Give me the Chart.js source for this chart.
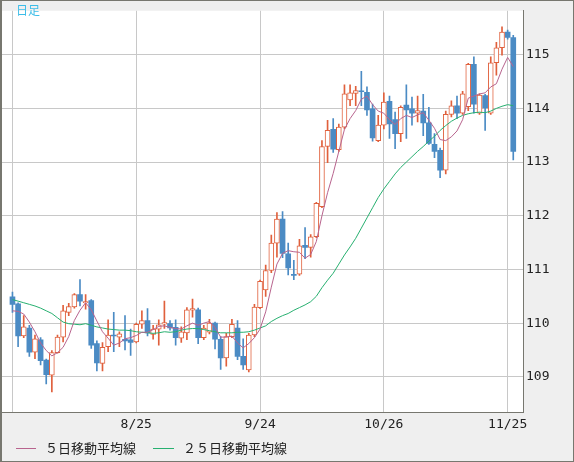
<!DOCTYPE html>
<html lang="ja">
<head>
<meta charset="utf-8">
<title>日足</title>
<script src="https://cdn.jsdelivr.net/npm/chart.js"></script>
<style>
  html, body { margin: 0; padding: 0; background: #efefef; }
  #wrap { position: relative; width: 574px; height: 462px; }
</style>
</head>
<body>
<div id="wrap"><canvas id="candleChart"></canvas></div>
<script>
// daily OHLC, one entry per trading day (index 0 .. 89)
const opens = [
  110.49, 110.36, 109.76, 109.91, 109.46, 109.69, 109.31, 109.03, 109.45, 109.74,
  110.20, 110.30, 110.53, 110.38, 110.42, 109.62, 109.25, 109.56, 109.78, 109.74,
  109.70, 109.69, 109.65, 109.98, 110.05, 109.79, 109.89, 109.98, 109.99, 109.92,
  109.72, 109.82, 110.24, 110.25, 109.73, 109.83, 110.00, 109.70, 109.35, 109.75,
  109.91, 109.38, 109.13, 109.78, 110.29, 110.62, 110.98, 111.49, 111.94, 111.29,
  110.91, 110.91, 111.45, 111.41, 111.61, 112.17, 113.29, 113.61, 113.23, 113.65,
  114.16, 114.28, 114.32, 114.30, 113.99, 113.40, 113.69, 114.13, 113.79, 113.53,
  114.06, 113.99, 113.91, 113.95, 113.73, 113.33, 113.22, 112.85, 113.89, 114.05,
  113.91, 114.03, 114.82, 113.91, 114.24, 113.91, 114.85, 115.13, 115.42, 115.32
];
const highs = [
  110.58, 110.38, 110.14, 109.96, 109.78, 109.73, 109.33, 109.49, 109.78, 110.33,
  110.37, 110.55, 110.81, 110.53, 110.44, 109.67, 109.64, 110.06, 110.20, 109.84,
  110.14, 109.89, 110.00, 110.23, 110.27, 109.96, 110.06, 110.41, 110.05, 110.06,
  109.93, 110.29, 110.45, 110.28, 109.96, 110.07, 110.02, 109.75, 109.81, 110.07,
  110.05, 109.71, 109.81, 110.35, 110.80, 111.08, 111.64, 112.06, 112.08, 111.49,
  111.17, 111.56, 111.78, 111.65, 112.25, 113.40, 113.78, 113.81, 113.71, 114.44,
  114.44, 114.41, 114.69, 114.40, 114.08, 113.87, 114.29, 114.23, 113.93, 114.05,
  114.44, 114.21, 114.23, 114.26, 114.02, 113.53, 113.26, 113.95, 114.14, 114.23,
  114.32, 114.84, 114.96, 114.27, 114.26, 114.96, 115.23, 115.52, 115.46, 115.36
];
const lows = [
  110.20, 109.56, 109.73, 109.38, 109.34, 109.22, 108.87, 108.72, 109.44, 109.65,
  110.14, 110.28, 110.32, 110.26, 109.53, 109.11, 109.11, 109.47, 109.47, 109.56,
  109.50, 109.40, 109.63, 109.90, 109.76, 109.70, 109.59, 109.90, 109.87, 109.59,
  109.64, 109.69, 110.11, 109.62, 109.69, 109.80, 109.52, 109.14, 109.20, 109.73,
  109.32, 109.14, 109.09, 109.75, 110.27, 110.50, 110.94, 111.23, 111.22, 110.90,
  110.81, 110.89, 111.20, 111.23, 111.59, 112.15, 112.99, 113.18, 113.20, 113.62,
  114.05, 114.05, 114.05, 113.87, 113.39, 113.38, 113.62, 113.44, 113.25, 113.38,
  113.44, 113.69, 113.75, 113.49, 113.33, 113.08, 112.71, 112.78, 113.84, 113.81,
  113.89, 113.96, 113.91, 113.89, 113.59, 113.89, 114.62, 114.99, 115.29, 113.04
];
const closes = [
  110.35, 109.76, 109.93, 109.46, 109.71, 109.30, 109.04, 109.45, 109.74, 110.23,
  110.31, 110.53, 110.41, 110.40, 109.59, 109.26, 109.55, 109.78, 109.76, 109.80,
  109.67, 109.64, 109.98, 110.05, 109.82, 109.89, 109.97, 110.01, 109.91, 109.73,
  109.84, 110.25, 110.27, 109.73, 109.91, 110.00, 109.70, 109.35, 109.75, 109.98,
  109.38, 109.22, 109.78, 110.30, 110.78, 110.98, 111.49, 111.94, 111.30, 111.03,
  110.89, 111.44, 111.41, 111.61, 112.23, 113.29, 113.59, 113.24, 113.65, 114.27,
  114.29, 114.33, 114.31, 113.97, 113.45, 113.69, 114.12, 113.71, 113.53, 114.02,
  113.97, 113.91, 113.96, 113.73, 113.35, 113.20, 112.85, 113.89, 114.05, 113.91,
  114.27, 114.82, 114.08, 114.25, 114.01, 114.85, 115.13, 115.42, 115.32, 113.20
];
// 5-day moving average
const ma5 = [
  110.23, 110.22, 110.17, 110.02, 109.84, 109.63, 109.49, 109.39, 109.45, 109.55,
  109.75, 110.05, 110.24, 110.38, 110.25, 110.04, 109.84, 109.72, 109.59, 109.63,
  109.71, 109.73, 109.77, 109.83, 109.83, 109.88, 109.94, 109.95, 109.92, 109.90,
  109.89, 109.95, 110.00, 109.96, 110.00, 110.03, 109.92, 109.74, 109.74, 109.76,
  109.63, 109.54, 109.62, 109.73, 109.89, 110.21, 110.67, 111.10, 111.30, 111.35,
  111.33, 111.32, 111.21, 111.28, 111.52, 112.00, 112.43, 112.79, 113.20, 113.61,
  113.81, 113.96, 114.17, 114.23, 114.07, 113.95, 113.91, 113.79, 113.70, 113.81,
  113.87, 113.83, 113.88, 113.92, 113.78, 113.63, 113.42, 113.40, 113.47, 113.58,
  113.79, 114.19, 114.23, 114.27, 114.29, 114.40, 114.46, 114.73, 114.95, 114.78
];
// 25-day moving average
const ma25 = [
  110.44, 110.41, 110.38, 110.35, 110.32, 110.28, 110.23, 110.18, 110.10, 110.02,
  109.99, 109.98, 109.97, 109.99, 109.96, 109.93, 109.91, 109.89, 109.88, 109.87,
  109.87, 109.86, 109.84, 109.83, 109.82, 109.81, 109.82, 109.84, 109.83, 109.84,
  109.87, 109.89, 109.90, 109.90, 109.88, 109.86, 109.84, 109.82, 109.82, 109.82,
  109.83, 109.83, 109.84, 109.87, 109.91, 109.95, 110.03, 110.09, 110.14, 110.18,
  110.24, 110.29, 110.34, 110.40, 110.50, 110.66, 110.80, 110.93, 111.10, 111.27,
  111.42, 111.58, 111.77, 111.96, 112.15, 112.34, 112.50, 112.64, 112.78, 112.90,
  113.00, 113.10, 113.20, 113.29, 113.39, 113.48, 113.59, 113.68, 113.76, 113.82,
  113.87, 113.90, 113.92, 113.93, 113.92, 113.95, 114.00, 114.04, 114.07, 114.05
];
const tickIndex = [0, 22, 44, 66, 88];
const tickLabels = ['', '8/25', '9/24', '10/26', '11/25'];
const priceTicks = [109, 110, 111, 112, 113, 114, 115];
const legendLabels = ['５日移動平均線', '２５日移動平均線'];

const UP = '#e0603c';
const DOWN = '#4b8bc4';
const MA5_COLOR = '#b8648e';
const MA25_COLOR = '#27b070';
const GRID = '#c8c8c8';
const FRAME = '#77776f';

// split candles into up / down sets of wicks and bodies
const upWick = [], downWick = [], upBody = [], downBody = [];
closes.forEach((c, i) => {
  const o = opens[i];
  const wick = { x: i, y: [lows[i], highs[i]] };
  const body = { x: i, y: [Math.min(o, c), Math.max(o, c)] };
  if (c >= o) {
    upWick.push(wick);
    upBody.push(body);
  } else {
    downWick.push(wick);
    downBody.push(body);
  }
});

const framePlugin = {
  id: 'frame',
  beforeDraw(chart) {
    const { ctx, chartArea: a, width, height } = chart;
    ctx.save();
    ctx.fillStyle = '#efefef';
    ctx.fillRect(0, 0, width, height);
    ctx.fillStyle = '#ffffff';
    ctx.fillRect(a.left, a.top, a.right - a.left, a.bottom - a.top);
    ctx.restore();
  },
  afterDraw(chart) {
    const { ctx, width, height } = chart;
    ctx.save();
    // period label
    ctx.fillStyle = '#3cbde8';
    ctx.font = '12px "Noto Sans CJK JP", sans-serif';
    ctx.textBaseline = 'middle';
    ctx.fillText('日足', 16, 10.5);
    // legend
    const ly = 448;
    ctx.lineWidth = 1;
    ctx.font = '13px "Noto Sans CJK JP", sans-serif';
    [[16, 36, 45, MA5_COLOR], [153, 174, 183, MA25_COLOR]].forEach(([x0, x1, tx, col], k) => {
      ctx.strokeStyle = col;
      ctx.beginPath();
      ctx.moveTo(x0, ly + 0.5);
      ctx.lineTo(x1, ly + 0.5);
      ctx.stroke();
      ctx.fillStyle = '#222';
      ctx.fillText(legendLabels[k], tx, ly);
    });
    // outer frame
    ctx.strokeStyle = FRAME;
    ctx.strokeRect(0.5, 0.5, width - 1, height - 1);
    ctx.fillStyle = FRAME;
    ctx.fillRect(0, 0, 2, height);
    ctx.restore();
  }
};

new Chart(document.getElementById('candleChart'), {
  type: 'bar',
  data: {
    datasets: [
      { type: 'line', label: legendLabels[0], data: ma5.map((v, i) => ({ x: i, y: v })),
        borderColor: MA5_COLOR, borderWidth: 1, pointRadius: 0, tension: 0, order: 0 },
      { type: 'line', label: legendLabels[1], data: ma25.map((v, i) => ({ x: i, y: v })),
        borderColor: MA25_COLOR, borderWidth: 1, pointRadius: 0, tension: 0, order: 1 },
      { label: 'up', data: upBody, backgroundColor: '#ffffff', borderColor: UP, borderWidth: 1,
        borderSkipped: false, barThickness: 5, minBarLength: 1, grouped: false, order: 2 },
      { label: 'down', data: downBody, backgroundColor: DOWN, borderWidth: 0,
        barThickness: 5, minBarLength: 1, grouped: false, order: 3 },
      { label: 'upWick', data: upWick, backgroundColor: UP, barThickness: 1, grouped: false, order: 4 },
      { label: 'downWick', data: downWick, backgroundColor: DOWN, barThickness: 1, grouped: false, order: 5 }
    ]
  },
  options: {
    responsive: true,
    maintainAspectRatio: false,
    animation: false,
    layout: { padding: { left: 2, top: 1, right: 0, bottom: 0 } },
    plugins: { legend: { display: false }, tooltip: { enabled: false } },
    scales: {
      x: {
        type: 'linear',
        min: -1.86,
        max: 90.73,
        offset: false,
        afterBuildTicks: s => { s.ticks = tickIndex.map(v => ({ value: v })); },
        afterFit: s => { s.height = 50; },
        grid: { color: GRID, drawTicks: false, offset: false },
        border: { color: FRAME },
        ticks: {
          padding: 5, color: '#222', maxRotation: 0, autoSkip: false,
          font: { size: 13, family: '"DejaVu Sans Mono", monospace' },
          callback: v => tickLabels[tickIndex.indexOf(v)] || ''
        }
      },
      y: {
        type: 'linear',
        position: 'right',
        min: 108.345,
        max: 115.818,
        afterBuildTicks: s => { s.ticks = priceTicks.map(v => ({ value: v })); },
        afterFit: s => { s.width = 51; },
        grid: { color: GRID, drawTicks: false },
        border: { color: FRAME },
        ticks: {
          padding: 3, color: '#222',
          font: { size: 13, family: '"DejaVu Sans Mono", monospace' },
          callback: v => String(v)
        }
      }
    }
  },
  plugins: [framePlugin]
});
</script>
</body>
</html>
